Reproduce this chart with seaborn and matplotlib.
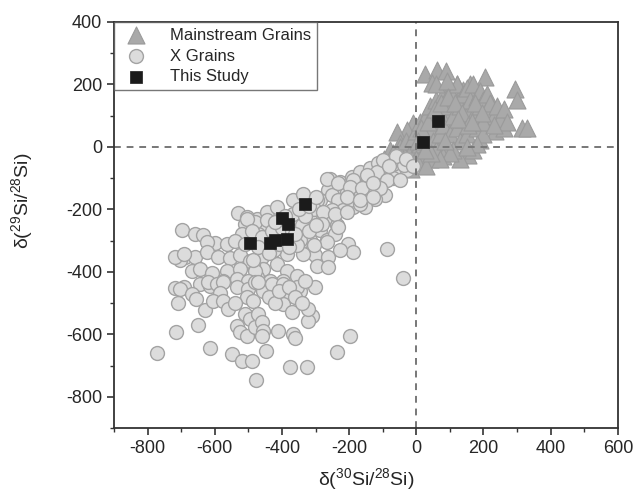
import numpy as np
import pandas as pd
import matplotlib
matplotlib.use('Agg')
import matplotlib.pyplot as plt
import seaborn as sns
from matplotlib.ticker import MultipleLocator

sns.set_style('ticks')
plt.rcParams['font.family'] = ['Liberation Sans', 'DejaVu Sans']
plt.rcParams['mathtext.fontset'] = 'custom'
plt.rcParams['mathtext.rm'] = 'Liberation Sans'
plt.rcParams['axes.unicode_minus'] = False

# Mainstream grains (triangles)
ms_x = [26, 61, 89, 46, 205, 294, 299, 314, 329, 235, 260, 190, 155, 101, 130, 160, 120, 140,
        170, 180, 200, 210, 150, 120, 91, 61, 71, 41, 11, -9, -28, -58, -48, -78, -18, 91, 61, 106,
        -80, -70, -60, -50, -40, -30, -20, -10, 0, 0, 10, 10, 20, 20, 30, 30, 40, 40, 50, 50,
        60, 60, 70, 70, 80, 80, 90, 90, 100, 100, 110, 110, 120, 120, 130, 130, 140, 140, 150, 150,
        160, 160, 170, 170, 180, 180, 190, 190, 200, 200, 210, 210, 220, 230, 240, 250, 170, 130,
        110, 80, 40, -10, -90, 60, 90, 200, 260, 270, 230, 180, 150, 100, 70, 0, 30, -95, -85,
        15, 35, 55, 75, 95, 115, 135, 155, 175, 195, 45, 85, 125, 165, -35, -15, 5, 25]
ms_y = [235, 246, 244, 205, 225, 187, 150, 62, 59, 51, 62, 21, -27, 112, 155, 203, 203, 182,
        171, 139, 96, 86, 96, 75, 43, 54, 16, 0, 43, 75, 54, 48, 11, -11, 0, 150, 118, 64,
        -50, -20, -60, 0, -40, 20, -20, 30, -10, 50, 10, 80, -30, 40, 100, 0, 60, 130, 20, 90,
        150, -10, 40, 110, 170, 70, 0, 130, 180, 40, 100, 160, 60, 200, 130, 20, 170, 90, 190, 40,
        120, 150, 100, 200, 160, 60, 130, 180, 150, 40, 120, 170, 140, 100, 130, 90, -10, -40,
        -10, -30, -40, -50, -90, 200, 210, 80, 120, 80, 70, 10, 0, -20, -40, -40, -60, -40, -70,
        60, 80, 120, 140, 160, 140, 110, 70, 140, 110, -20, 20, 90, 80, -60, -70, 20, -10]

# X grains (circles)
x_x = [-257, -227, -192, -202, -167, -138, -113, -88, -58, -28, -68, -98, -132, -167, -93, -123,
       -158, -192, -237, -262, -286, -232, -187, -152, -117, -147, -88, -48, -187, -137, -108, -207,
       -266, -251, -232, -197, -167, -217, -251, -296, -316, -346, -366, -306, -277, -247, -237, -286,
       -316, -346, -266, -242, -202, -88, -301, -262, -39,
       -232, -197, -162, -128, -207, -168, -128, -306, -277, -242, -207, -281, -232, -266, -187,
       -227, -306, -336, -296, -262, -346, -356, -386, -425, -460, -455, -415, -386, -356, -396,
       -435, -475, -485, -475, -445, -415, -366, -336, -450, -470,
       -530, -698, -659, -634, -599, -564, -624, -688, -703, -659, -624, -589, -554, -525, -505,
       -480, -445, -366, -718, -693, -495, -668, -644, -609, -564, -525, -480, -485, -693, -644,
       -614, -574, -534, -500, -510, -505,
       -520, -490, -460, -430, -400, -370, -340, -320, -540, -510, -470, -440, -410, -380, -360,
       -330, -300, -420, -390, -350, -320, -300,
       -718, -703, -708, -668, -656, -629, -649, -716, -771, -614, -549, -520, -490, -478, -619,
       -592, -574, -584, -604, -574, -534, -500, -480, -505, -485, -510, -495, -534, -525, -505,
       -480, -470, -301, -346, -385, -396, -371, -455, -470, -430, -396, -356, -311, -321, -460,
       -455, -460, -411, -366, -361, -197, -237, -447, -376, -324, -321,
       -440, -420, -410, -380, -360, -340, -330, -560, -540,
       -98, -68, -38, -60, -30, -10, -80]
x_y = [-102, -112, -96, -128, -80, -69, -53, -48, -69, -75, -101, -112, -134, -128, -155, -166,
       -171, -160, -150, -139, -171, -192, -192, -192, -80, -90, -107, -107, -107, -139, -133, -144,
       -102, -155, -171, -171, -182, -203, -203, -171, -193, -214, -235, -235, -230, -224, -251, -267,
       -299, -310, -299, -278, -310, -326, -347, -353, -421,
       -117, -128, -133, -117, -160, -171, -160, -198, -209, -214, -209, -246, -257, -305, -337,
       -331, -315, -342, -380, -385, -299, -315, -342, -331, -353, -390, -374, -396, -412, -428,
       -428, -417, -374, -230, -209, -193, -171, -150, -257, -278,
       -212, -267, -278, -281, -308, -310, -305, -351, -361, -351, -337, -353, -355, -347, -225,
       -241, -235, -214, -353, -344, -364, -396, -390, -404, -396, -390, -396, -361, -449, -438,
       -444, -430, -422, -428, -246, -230,
       -280, -270, -290, -270, -260, -270, -250, -270, -300, -310, -320, -340, -310, -320, -280,
       -220, -250, -240, -220, -200, -190, -160,
       -451, -456, -500, -472, -486, -522, -569, -594, -661, -645, -663, -684, -684, -746, -433,
       -440, -433, -468, -494, -494, -449, -454, -433, -481, -492, -534, -551, -572, -594, -604,
       -577, -534, -447, -460, -476, -502, -529, -460, -433, -438, -438, -449, -540, -556, -561,
       -588, -604, -588, -599, -611, -604, -658, -652, -704, -704, -518,
       -480, -500, -460, -450, -480, -500, -430, -520, -500,
       -43, -56, -59, -30, -40, -60, -60]

# This Study (squares)
st_x = [-496, -435, -421, -386, -401, -383, -331, 19, 66]
st_y = [-307, -307, -299, -296, -227, -246, -184, 16, 82]

fig, ax = plt.subplots(figsize=(6.35, 4.94), dpi=100)
fig.subplots_adjust(left=0.1795, right=0.973, top=0.9555, bottom=0.1336)

sns.scatterplot(x=ms_x, y=ms_y, marker='^', s=150, color='#a9a9a9', edgecolor='#9a9a9a',
                linewidth=0.8, label='Mainstream Grains', ax=ax, zorder=2)
sns.scatterplot(x=x_x, y=x_y, marker='o', s=100, color='#dcdcdc', edgecolor='#a3a3a3',
                linewidth=1.0, label='X Grains', ax=ax, zorder=2)
ax.axvline(0, color='#777777', ls=(0, (3.5, 3)), lw=1.4, zorder=2.5)
ax.axhline(0, color='#777777', ls=(0, (3.5, 3)), lw=1.4, zorder=2.5)
sns.scatterplot(x=st_x, y=st_y, marker='s', s=75, color='#1b1b1b', edgecolor='#1b1b1b',
                linewidth=0.5, label='This Study', ax=ax, zorder=3)

ax.set_xlim(-900, 600)
ax.set_ylim(-900, 400)
ax.xaxis.set_major_locator(MultipleLocator(200))
ax.xaxis.set_minor_locator(MultipleLocator(100))
ax.yaxis.set_major_locator(MultipleLocator(200))
ax.yaxis.set_minor_locator(MultipleLocator(100))
ax.tick_params(which='major', direction='out', length=5, width=1.2, labelsize=13, color='#333333')
ax.tick_params(which='minor', direction='out', length=3, width=1.0, color='#333333')
for sp in ax.spines.values():
    sp.set_linewidth(1.3)
    sp.set_color('#333333')

ax.set_xlabel(r'δ($^{\mathrm{30}}$Si/$^{\mathrm{28}}$Si)', fontsize=14, labelpad=7)
ax.set_ylabel(r'δ($^{\mathrm{29}}$Si/$^{\mathrm{28}}$Si)', fontsize=14)
ax.yaxis.set_label_coords(-0.155, 0.56)

leg = ax.legend(loc='upper left', bbox_to_anchor=(0, 1), borderaxespad=0, fontsize=12,
                frameon=True, fancybox=False, edgecolor='#555555', handletextpad=1.0,
                borderpad=0.35, labelspacing=0.35)
leg.get_frame().set_linewidth(1.0)

plt.savefig('out.png', dpi=100)
